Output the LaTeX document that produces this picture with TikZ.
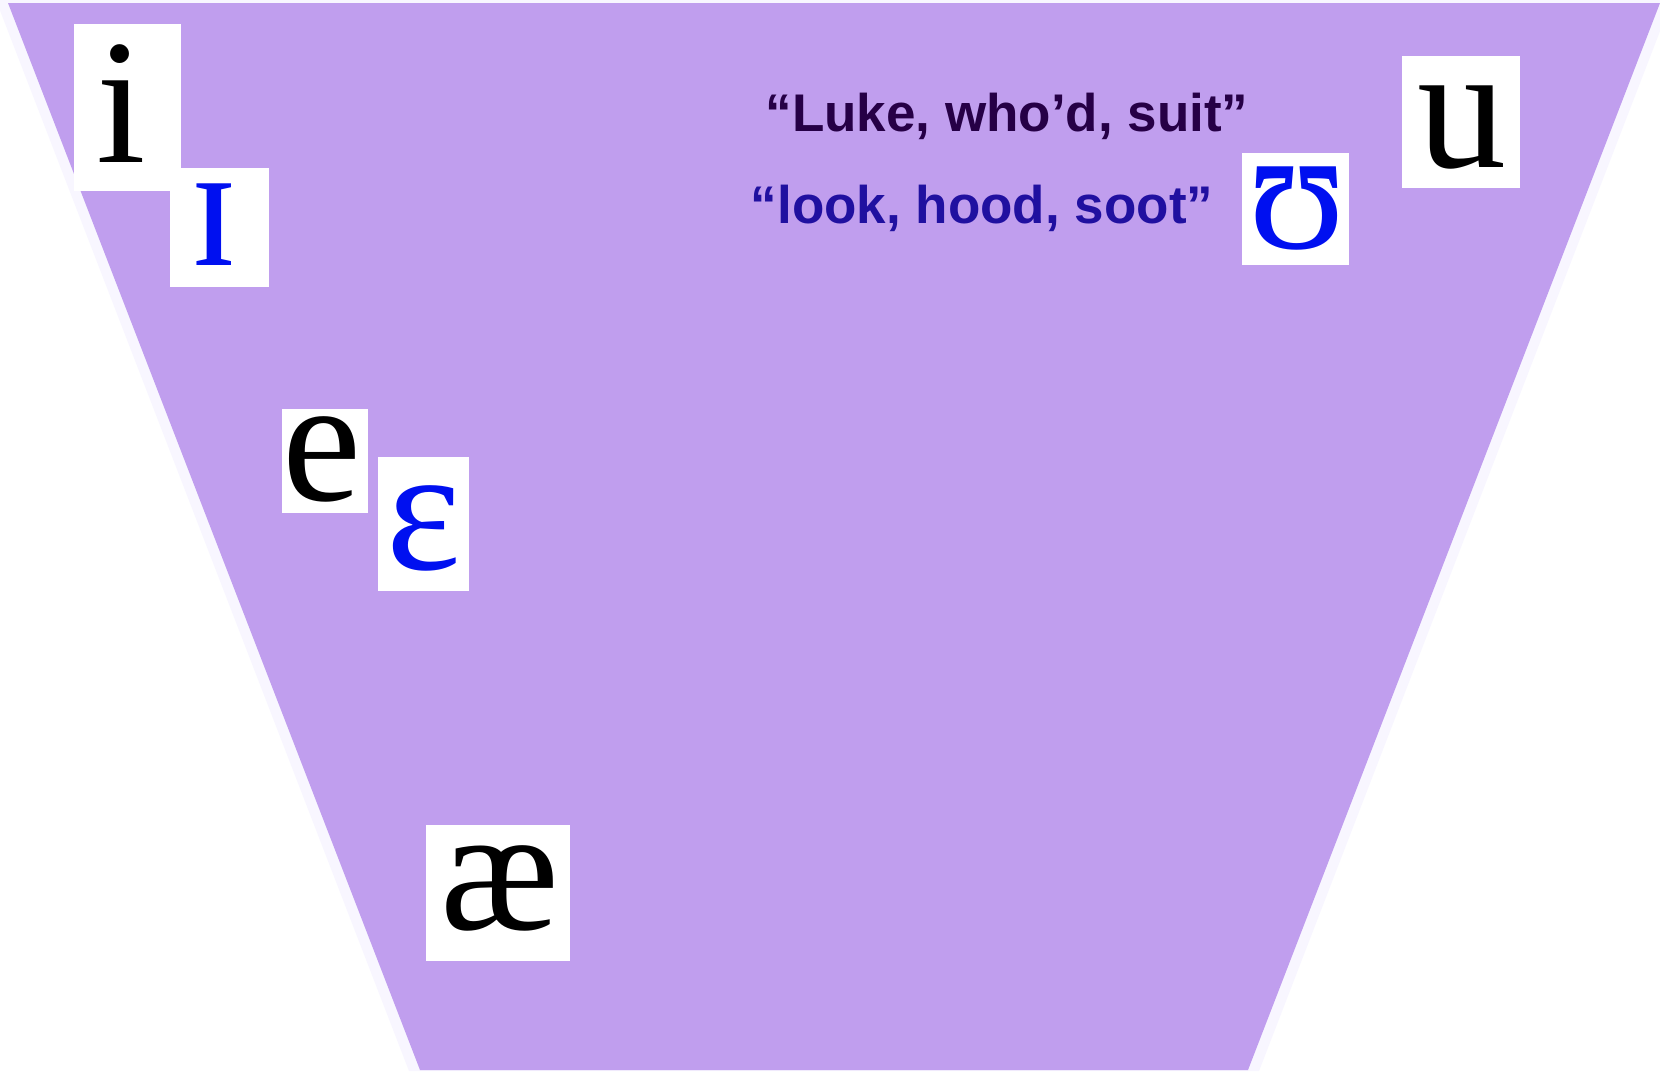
\documentclass[tikz,border=0pt]{standalone}
\usepackage{fontspec}
\newfontfamily\ipafont{Liberation Serif}
\newfontfamily\labfont{Liberation Sans}
\definecolor{trap}{HTML}{C09EEE}
\definecolor{trapedge}{HTML}{F8F6FF}
\definecolor{lukecol}{HTML}{260046}
\definecolor{lookcol}{HTML}{2010A0}
\definecolor{ipablue}{HTML}{0010F0}
\tikzset{
  wbox/.style={fill=white, draw=none, inner sep=0pt, anchor=north west},
  bigipa/.style={inner sep=0pt, anchor=base, font=\ipafont\fontsize{178}{200}\selectfont},
  blueipa/.style={bigipa, text=ipablue},
  label/.style={inner sep=0pt, anchor=base, font=\labfont\bfseries\fontsize{53}{62}\selectfont}
}
\begin{document}
\begin{tikzpicture}[x=1pt, y=-1pt]
\useasboundingbox (0,0) rectangle (1660,1071);
\fill[white] (0,0) rectangle (1660,1071);
% pale outline band
\fill[trapedge] (-4,0) -- (1672,0) -- (1259,1071) -- (409,1071) -- cycle;
% trapezoid
\fill[trap] (8,3) -- (1660,3) -- (1248,1070) -- (420,1070) -- cycle;
% white boxes
\node[wbox, minimum width=107pt, minimum height=167pt] (ibox) at (74,24) {};
\node[wbox, minimum width=99pt, minimum height=119pt] (Ibox) at (170,168) {};
\node[wbox, minimum width=118pt, minimum height=132pt] (ubox) at (1402,56) {};
\node[wbox, minimum width=107pt, minimum height=112pt] (Ubox) at (1242,153) {};
\node[wbox, minimum width=86pt, minimum height=104pt] (ebox) at (282,409) {};
\node[wbox, minimum width=91pt, minimum height=134pt] (Ebox) at (378,457) {};
\node[wbox, minimum width=144pt, minimum height=136pt] (aebox) at (426,825) {};
% letters
\node[bigipa] (i) at (121,162) {i};
\node[blueipa] (I) at (214,265) {ɪ};
\node[bigipa] (u) at (1462,167) {u};
\node[blueipa] (U) at (1297,248) {ʊ};
\node[bigipa] (e) at (322,500) {e};
\node[blueipa] (E) at (424,569) {ɛ};
\node[bigipa] (ae) at (500,929) {æ};
% labels
\node[label, text=lukecol] (luke) at (1007,131) {“Luke, who’d, suit”};
\node[label, text=lookcol] (look) at (982,223) {“look, hood, soot”};
\end{tikzpicture}
\end{document}
